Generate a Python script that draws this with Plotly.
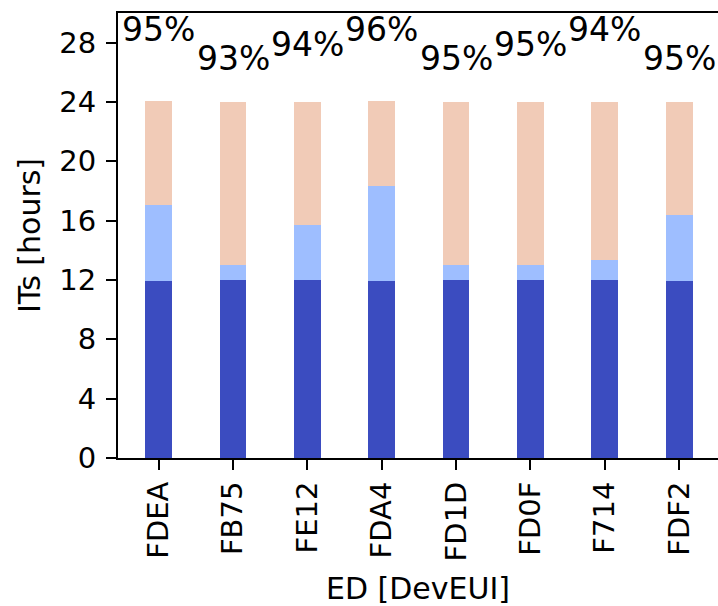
import plotly.graph_objects as go

# End devices (DevEUI suffix)
devices = ["FDEA", "FB75", "FE12", "FDA4", "FD1D", "FD0F", "F714", "FDF2"]

# Hours per day in each state (stacked)
hours_low = [11.95, 12.0, 12.0, 11.95, 12.0, 12.0, 12.0, 11.95]
hours_mid = [5.08, 0.99, 3.68, 6.42, 0.99, 0.99, 1.32, 4.40]
hours_high = [7.02, 11.01, 8.32, 5.68, 11.01, 11.01, 10.68, 7.65]

# Share shown above each bar
shares = ["95%", "93%", "94%", "96%", "95%", "95%", "94%", "95%"]

yticks = [0, 4, 8, 12, 16, 20, 24, 28]

FONT = "DejaVu Sans"
BAR_W = 0.36

fig = go.Figure()
for vals, color in [(hours_low, "#3b4cc0"), (hours_mid, "#9ebeff"), (hours_high, "#f1cbb7")]:
    fig.add_trace(go.Bar(
        x=list(range(len(devices))), y=vals, width=BAR_W,
        marker=dict(color=color, line=dict(width=0)),
        showlegend=False,
    ))

# Staggered label heights so neighbouring labels do not collide
stagger = [2, 0, 1]
for i, s in enumerate(shares):
    fig.add_annotation(
        x=i, y=26 + stagger[i % 3], text=s, showarrow=False,
        xanchor="center", yanchor="bottom", yshift=-8,
        font=dict(family=FONT, size=33, color="black"),
    )

fig.update_layout(
    width=718, height=606,
    margin=dict(l=117.5, r=0, t=12.7, b=147.7, autoexpand=False),
    paper_bgcolor="white", plot_bgcolor="white",
    barmode="stack", bargap=0,
    font=dict(family=FONT, size=29, color="black"),
)
fig.update_xaxes(
    range=[-0.548, 7.523],
    tickmode="array", tickvals=list(range(len(devices))), ticktext=devices,
    tickangle=-90,
    ticks="outside", ticklen=10, tickwidth=2, tickcolor="black",
    showline=True, linewidth=2, linecolor="black", mirror=True,
    showgrid=False, zeroline=False,
    tickfont=dict(family=FONT, size=29),
    title=dict(text="ED [DevEUI]", font=dict(family=FONT, size=30), standoff=20),
    automargin=False,
)
fig.update_yaxes(
    range=[0, 30],
    tickmode="array", tickvals=yticks,
    ticks="outside", ticklen=10, tickwidth=2, tickcolor="black",
    ticklabelstandoff=4,
    showline=True, linewidth=2, linecolor="black",
    showgrid=False, zeroline=False,
    tickfont=dict(family=FONT, size=29),
    title=dict(text="ITs [hours]", font=dict(family=FONT, size=30), standoff=10),
    automargin=False,
)

fig.write_html("out.html")
